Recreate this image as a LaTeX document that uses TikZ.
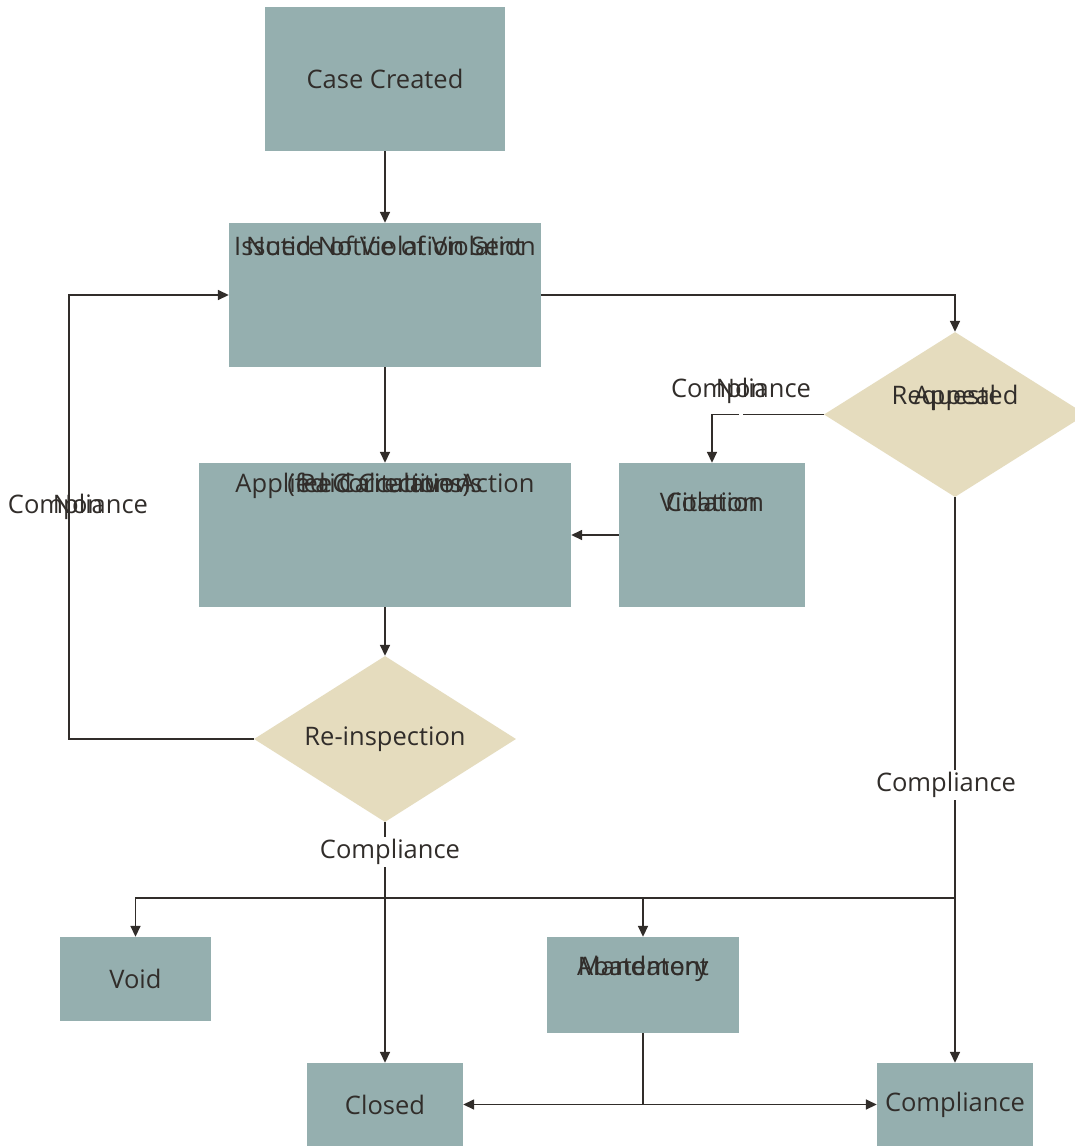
\documentclass[tikz,border=0pt]{standalone}
\usepackage{fontspec}
\setmainfont{Open Sans}
\usetikzlibrary{arrows.meta,shapes.geometric}
\definecolor{boxc}{HTML}{95AFAF}
\definecolor{diac}{HTML}{E5DCBE}
\definecolor{ink}{HTML}{312D2A}
\newcommand{\ovl}[2]{\makebox[0pt][c]{#1}\makebox[0pt][c]{#2}}
\newcommand{\ovlt}[3]{\makebox[0pt][c]{#1}\makebox[0pt][c]{#2}\makebox[0pt][c]{#3}}
\begin{document}
\begin{tikzpicture}[x=1pt,y=-1pt,
  font=\fontsize{25.5}{30}\selectfont,
  box/.style={rectangle,fill=boxc,draw=none,inner sep=0pt,text=ink},
  dia/.style={diamond,fill=diac,draw=none,inner sep=0pt,text=ink},
  txt/.style={inner sep=0pt,text=ink},
  lbl/.style={fill=white,inner sep=2pt,text=ink},
  arr/.style={draw=ink,line width=1.6pt,-{Triangle[length=11pt,width=10pt]}},
  ln/.style={draw=ink,line width=1.6pt}]
\useasboundingbox (0,0) rectangle (1074,1146);
\fill[white] (0,0) rectangle (1074,1146);
% boxes
\node[box,minimum width=240pt,minimum height=144pt] (case) at (385,79) {Case Created};
\node[box,minimum width=312pt,minimum height=144pt] (nov) at (385,295) {};
\node[box,minimum width=372pt,minimum height=144pt] (aca) at (385,535) {};
\node[box,minimum width=186pt,minimum height=144pt] (cit) at (712,535) {};
\node[dia,minimum width=262pt,minimum height=165pt] (appeal) at (955,414.5) {};
\node[dia,minimum width=262pt,minimum height=166pt] (re) at (385,739) {};
\node[box,minimum width=151pt,minimum height=84pt] (void) at (135.5,979) {Void};
\node[box,minimum width=192pt,minimum height=96pt] (mand) at (643,985) {};
\node[box,minimum width=156pt,minimum height=83pt] (closed) at (385,1104.5) {Closed};
\node[box,minimum width=156pt,minimum height=83pt] (comp) at (955,1104.5) {Compliance};
% texts
\node[txt] (ret) at (385,739) {Re-inspection};
\node[txt] (novt) at (385,246) {\ovl{Issued Notice of Violation}{Notice of Violation Sent}};
\node[txt] (acat) at (385,486) {\ovlt{Applied Corrective Action}{(fee Calculations}{Paid Citations)}};
\node[txt] (citt) at (712,502) {\ovl{Violation}{Citation}};
\node[txt] (appt) at (955,398) {\ovl{Appeal}{Requested}};
\node[txt] (mandt) at (643,969) {\ovl{Mandatory}{Abatement}};
% coordinates
\coordinate (lft) at (69,739);
\coordinate (j1) at (385,898);
\coordinate (j2) at (643,1104.5);
% connectors
\draw[arr] (case) -- (nov);
\draw[arr] (nov) -- (aca);
\draw[arr] (nov.east) -- (nov.east -| appeal.north) -- (appeal.north);
\draw[arr] (appeal.west) -| (cit.north);
\draw[arr] (cit.west) -- (aca.east);
\draw[arr] (aca) -- (re);
\draw[arr] (re.west) -- (lft) |- (nov.west);
\draw[arr] (re.south) -- (closed.north);
\draw[arr] (j1) -| (void.north);
\draw[arr] (j1) -| (mand.north);
\draw[arr] (appeal.south) -- (comp.north);
\draw[ln] (appeal.south |- j1) -- (j1);
\draw[ln] (mand.south) -- (j2);
\draw[arr] (j2) -- (closed.east);
\draw[arr] (j2) -- (comp.west);
% edge labels
\node[lbl,anchor=base,text height=20pt,text depth=40pt] (l1) at (741,397) {\ovl{Compliance}{Non}};
\node[lbl,anchor=base,text height=20pt,text depth=40pt] (l2) at (78,513) {\ovl{Compliance}{Non}};
\node[lbl] (l3) at (390,852) {Compliance};
\node[lbl] (l4) at (946,785) {Compliance};
\end{tikzpicture}
\end{document}
